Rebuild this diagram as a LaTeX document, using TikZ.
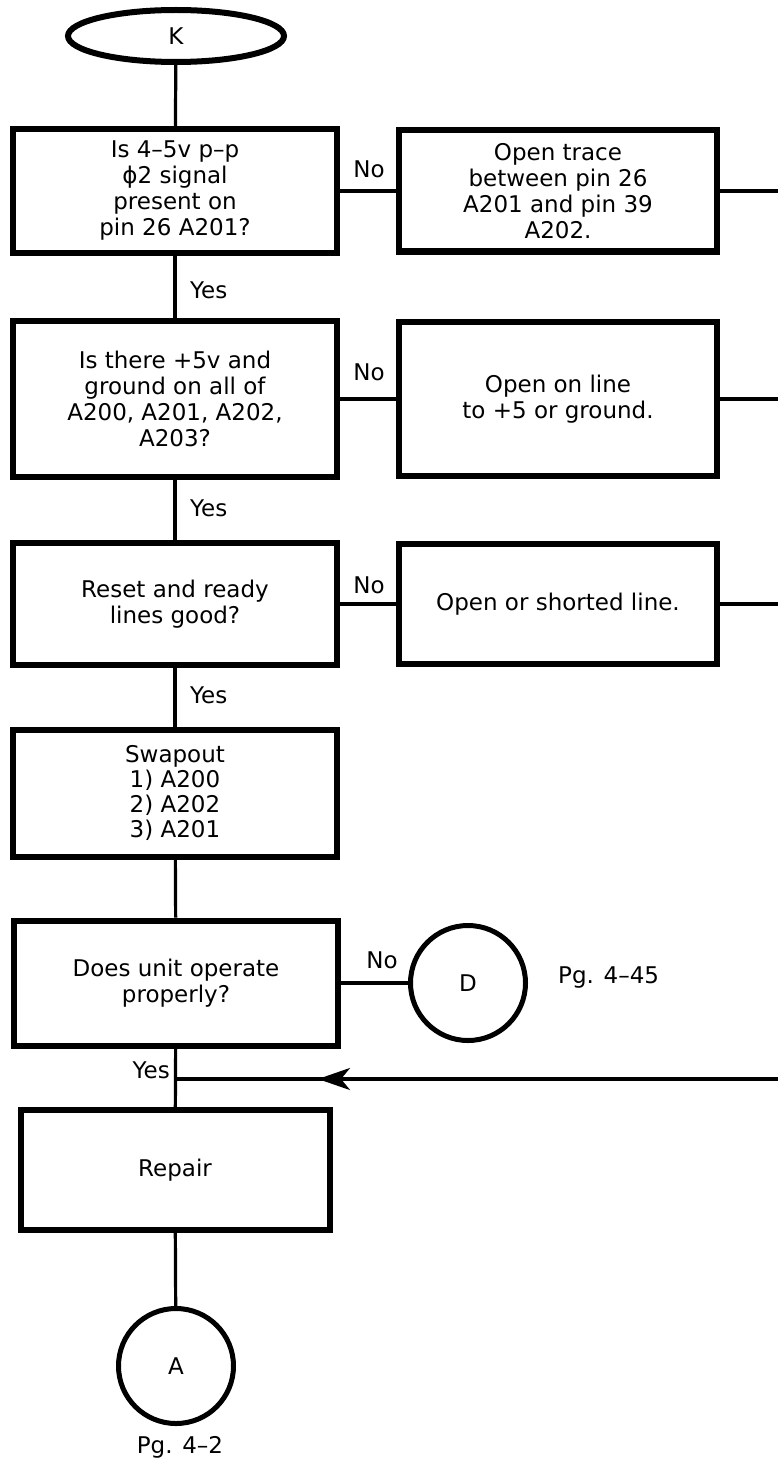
\documentclass[tikz,border=0pt]{standalone}
\usepackage{fontspec}
\setmainfont{DejaVu Sans}
\usepackage{tikz}
\usetikzlibrary{arrows.meta,shapes.geometric,decorations.markings}

\begin{document}
\begin{tikzpicture}[x=1pt,y=-1pt,
  font=\fontsize{23}{26}\selectfont,
  box/.style={draw,line width=6pt,align=center,inner sep=0pt,minimum width=324pt},
  fixbox/.style={draw,line width=6pt,align=center,inner sep=0pt,minimum width=318pt},
  term/.style={draw,ellipse,line width=6pt,inner sep=0pt,minimum width=216pt,minimum height=52pt},
  conn/.style={draw,circle,line width=5pt,inner sep=0pt,minimum size=115pt},
  wire/.style={line width=3.2pt},
  lbl/.style={inner sep=0pt},
  back/.style={wire,decoration={markings,mark=at position 460pt with {\arrow{Stealth[length=32pt,width=22pt,inset=9pt]}}},postaction={decorate}}
]
\useasboundingbox (0,0) rectangle (778,1463);
\coordinate (edge) at (778,0);

\node[term] (K) at (176,36) {K};
\node[box,minimum height=124pt] (q1) at (175,191) {Is 4–5v p–p\\ϕ2 signal\\present on\\pin 26 A201?};
\node[fixbox,minimum height=121pt] (f1) at (558,191) {Open trace\\between pin 26\\A201 and pin 39\\A202.};
\node[box,minimum height=156pt] (q2) at (175,399) {Is there +5v and\\ground on all of\\A200, A201, A202,\\A203?};
\node[fixbox,minimum height=154pt] (f2) at (558,399) {Open on line\\to +5 or ground.};
\node[box,minimum height=122pt] (q3) at (175,604) {Reset and ready\\lines good?};
\node[fixbox,minimum height=120pt] (f3) at (558,604) {Open or shorted line.};
\node[box,minimum height=127pt,font=\fontsize{23}{25}\selectfont] (sw) at (175,793) {Swapout\\1) A200\\2) A202\\3) A201};
\node[box,minimum height=125pt] (q4) at (176,983) {Does unit operate\\properly?};
\node[conn] (D) at (468,983) {D};
\node[lbl,anchor=west] (pgD) at (558,977) {Pg. 4–45};
\node[box,minimum height=120pt,minimum width=309pt] (rep) at (175,1170) {Repair};
\node[conn] (A) at (176,1366) {A};
\node[lbl] (pgA) at (180,1447) {Pg. 4–2};

\draw[wire] (K) -- (q1);
\draw[wire] (q1) -- (q2);
\draw[wire] (q2) -- (q3);
\draw[wire] (q3) -- (sw);
\draw[wire] (sw) -- (q4);
\draw[wire] (q4) -- (rep);
\draw[wire] (rep) -- (A);
\draw[wire] (q4) -- (D);
\foreach \n/\m in {1/q1,2/q2,3/q3}{
  \draw[wire] (\m) -- (f\n);
  \draw[wire] (f\n.east) -- (f\n.east -| edge);
}
\coordinate (ret) at (778,1079);
\coordinate (join) at (176,1079);
\draw[back] (ret) -- (join);

\foreach \y in {169,372,585}{\node[lbl] at (369,\y) {No};}
\node[lbl] at (382,960) {No};
\foreach \y in {290,508,695}{\node[lbl,anchor=west] at (190,\y) {Yes};}
\node[lbl,anchor=east] at (170,1070) {Yes};
\end{tikzpicture}
\end{document}
